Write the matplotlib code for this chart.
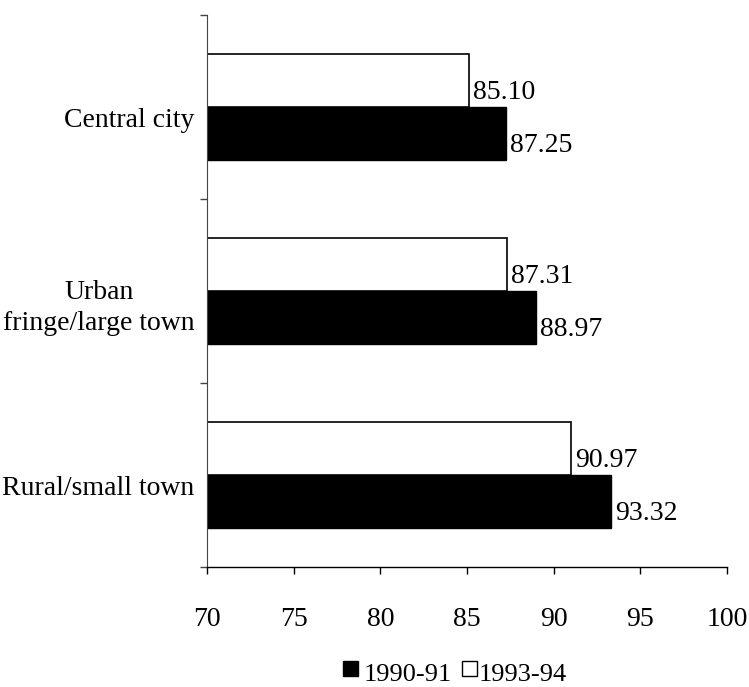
import numpy as np
import matplotlib
matplotlib.use("Agg")
import matplotlib.pyplot as plt
from matplotlib.patches import Rectangle
from matplotlib.transforms import ScaledTranslation

plt.rcParams['font.family'] = ['Liberation Serif', 'DejaVu Serif']

# Locale categories, top to bottom
categories = ['Central city', 'Urban\nfringe/large town', 'Rural/small town']
rate_1990 = [87.25, 88.97, 93.32]
rate_1993 = [85.10, 87.31, 90.97]
label_1990 = ['87.25', '88.97', '93.32']
label_1993 = ['85.10', '87.31', '90.97']
xticks = [70, 75, 80, 85, 90, 95, 100]
series = ['1990-91', '1993-94']

fig = plt.figure(figsize=(7.49, 6.87), dpi=100)
ax = fig.add_axes([0.2764, 0.1747, 0.6943, 0.8035])

y = np.arange(len(categories))[::-1]
h = 0.288
base = 70
fs = 20

w_1990 = [v - base for v in rate_1990]
w_1993 = [v - base for v in rate_1993]
ax.barh(y - h / 2, w_1990, height=h, left=base, color='black', edgecolor='black', linewidth=1)
ax.barh(y + h / 2, w_1993, height=h, left=base, color='white', edgecolor='black', linewidth=1.2)

# value labels sit just past the bar ends, a little below the bar middle
for yi, v, s in zip(y - h / 2, rate_1990, label_1990):
    ax.annotate(s, (v, yi), xytext=(3, -9), textcoords='offset points',
                ha='left', va='center', fontsize=fs)
for yi, v, s in zip(y + h / 2, rate_1993, label_1993):
    ax.annotate(s, (v, yi), xytext=(3, -9), textcoords='offset points',
                ha='left', va='center', fontsize=fs)

ax.set_xlim(70, 100)
ax.set_ylim(-0.5, len(categories) - 0.5)
ax.set_xticks(xticks)
ax.set_xticklabels([str(t) for t in xticks], fontsize=fs)
ax.tick_params(axis='x', length=5, width=1, pad=24, direction='out')

ax.set_yticks(y)
ax.set_yticklabels(categories, fontsize=fs, multialignment='center', linespacing=1.3)
ax.tick_params(axis='y', which='major', length=0, pad=9)
ax.set_yticks(np.arange(-0.5, len(categories)), minor=True)
ax.tick_params(axis='y', which='minor', length=5, width=1, color='#444444')
shift = ScaledTranslation(0, -0.11, fig.dpi_scale_trans)
for lbl in ax.get_yticklabels():
    lbl.set_transform(lbl.get_transform() + shift)

for side in ['top', 'right']:
    ax.spines[side].set_visible(False)
ax.spines['left'].set_color('#444444')
ax.spines['left'].set_linewidth(0.8)
ax.spines['bottom'].set_linewidth(1)

# legend: small squares raised a bit above the text line
W, H = fig.get_size_inches() * fig.dpi
sq = 15
for (sx, tx), face, name in zip([(343, 364), (462, 479)], ['black', 'white'], series):
    fig.add_artist(Rectangle((sx / W, 1 - 676 / H), sq / W, sq / H,
                             transform=fig.transFigure, facecolor=face,
                             edgecolor='black', linewidth=1))
    fig.text(tx / W, 1 / H, name, fontsize=19, ha='left', va='bottom')

fig.savefig('out.png', dpi=100)
